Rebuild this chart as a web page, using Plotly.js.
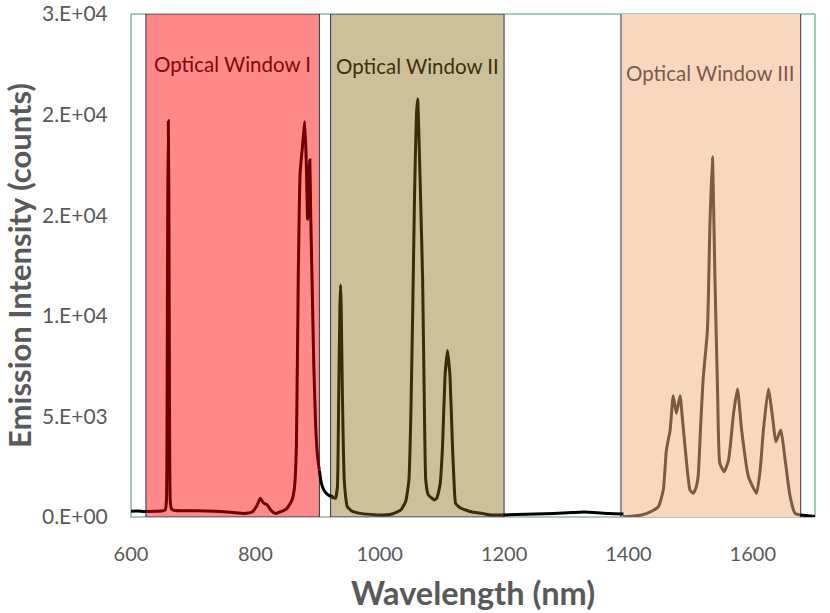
<!DOCTYPE html>
<html>
<head>
<meta charset="utf-8">
<script src="https://cdn.plot.ly/plotly-3.0.1.min.js"></script>
<style>
html,body{margin:0;padding:0;background:#fff;}
#chart{width:830px;height:613px;}
</style>
</head>
<body>
<div id="chart"></div>
<script>
// Black baseline segments (gaps between optical windows), null = break
const baseX = [600, 610, 620, 626, null, 903, 906, 910, 915, 920, 925, null,
  1198, 1220, 1250, 1280, 1310, 1330, 1350, 1370, 1392, null, 1676, 1688, 1700];
const baseY = [280, 300, 270, 270, null, 2300, 1700, 1350, 1150, 1050, 1000, null,
  100, 120, 150, 180, 220, 250, 210, 170, 150, null, 100, 60, 20];

// Optical Window I spectrum
const w1X = [626, 640, 650, 655, 657, 658, 659, 660, 661, 662, 663, 665, 670, 690, 720, 750, 780, 795,
  803, 808, 813, 819, 826, 832, 840, 851, 859, 863, 866, 869, 872, 876, 879.5, 882, 884, 886, 887.6,
  889, 891, 894, 897, 900, 903];
const w1Y = [270, 290, 300, 350, 800, 5000, 15000, 19700, 15000, 5000, 900, 400, 320, 310, 300, 260, 180, 250,
  600, 930, 700, 600, 300, 180, 250, 430, 850, 1500, 3500, 12000, 17100, 18500, 19650, 17500, 14800, 16500, 17740,
  15000, 12000, 7500, 4500, 3000, 2300];

// Optical Window II spectrum
const w2X = [922, 926, 929, 932, 934, 936, 937, 938, 940, 943, 948, 955, 969, 985, 1000, 1020, 1034, 1042,
  1047, 1050, 1053, 1056, 1059, 1061, 1063, 1066, 1069, 1072, 1074, 1078, 1084, 1088, 1092, 1097, 1101,
  1105, 1109, 1113, 1117, 1120, 1122, 1130, 1147, 1165, 1179, 1200];
const w2Y = [1010, 950, 930, 1500, 6000, 10500, 11530, 10500, 6000, 1800, 510, 300, 180, 130, 100, 150, 350, 800,
  1840, 5000, 10140, 16000, 20000, 20780, 19000, 15500, 11780, 5000, 1840, 1100, 930, 850, 950, 1600, 3500,
  7000, 8270, 7000, 3500, 1400, 680, 450, 260, 180, 100, 100];

// Optical Window III spectrum
const w3X = [1391, 1405, 1421, 1435, 1448, 1456, 1461, 1467, 1472, 1477, 1483, 1487, 1491, 1499, 1504,
  1508, 1512, 1516, 1520, 1527, 1531, 1535, 1539, 1543.5, 1547, 1554, 1561, 1569, 1575.3, 1582, 1593,
  1606, 1612, 1617, 1625, 1633, 1637, 1645, 1652, 1660, 1668, 1676];
const w3Y = [15, 40, 100, 250, 510, 1340, 3330, 4320, 6030, 5150, 6030, 4800, 3500, 1340, 1180,
  1400, 2000, 4500, 6810, 9290, 14500, 17910, 12000, 5980, 2670, 2250, 2830, 5150, 6360, 4320, 2000,
  1180, 2400, 4320, 6360, 4650, 3740, 4320, 2830, 1010, 180, 100];

// Window extents (nm) and labels
const windowNames = ["Optical Window I", "Optical Window II", "Optical Window III"];
const windowStart = [624, 921, 1388];
const windowEnd = [903, 1200, 1677];

const yTickVals = [0, 5000, 10000, 15000, 20000, 25000];
const yTickText = ["0.E+00", "5.E+03", "1.E+04", "2.E+04", "2.E+04", "3.E+04"];
const xTickVals = [600, 800, 1000, 1200, 1400, 1600];

const fills = ["#FF8888", "#CCBF99", "#F8D7C0"];
const lineCols = ["#6E0000", "#3A2C0A", "#7A5C44"];
const labelCols = ["#7B0A0A", "#3D2E0E", "#7A5A48"];

const traces = [
  {x: baseX, y: baseY, mode: "lines", line: {color: "#000000", width: 3, shape: "spline", smoothing: 0.6}, connectgaps: false, hoverinfo: "skip"},
  {x: w1X, y: w1Y, mode: "lines", line: {color: lineCols[0], width: 3, shape: "spline", smoothing: 0.4}},
  {x: w2X, y: w2Y, mode: "lines", line: {color: lineCols[1], width: 3, shape: "spline", smoothing: 0.4}},
  {x: w3X, y: w3Y, mode: "lines", line: {color: lineCols[2], width: 3, shape: "spline", smoothing: 0.5}}
];

const shapes = [
  {type: "rect", xref: "paper", yref: "paper", x0: 0, x1: 1, y0: 0, y1: 1,
   line: {color: "#3A9E72", width: 1}, fillcolor: "rgba(0,0,0,0)", layer: "below"}
];
const annYs = [22500, 22400, 22050];
const annotations = [];
for (let i = 0; i < 3; i++) {
  shapes.push({type: "rect", xref: "x", yref: "y", x0: windowStart[i], x1: windowEnd[i],
    y0: (i === 2 ? -150 : 0), y1: (i === 2 ? 25050 : 25000),
    fillcolor: fills[i], line: {color: "#2F3450", width: 1}, layer: "below"});
  annotations.push({x: (windowStart[i] + windowEnd[i]) / 2, y: annYs[i], xref: "x", yref: "y",
    text: windowNames[i], showarrow: false,
    font: {family: "Lato, 'Open Sans', sans-serif", size: 20.5, color: labelCols[i]}});
}

const layout = {
  width: 830, height: 613,
  margin: {l: 131, r: 15, t: 14, b: 96},
  paper_bgcolor: "#ffffff", plot_bgcolor: "#ffffff",
  showlegend: false,
  font: {family: "Lato, 'Open Sans', sans-serif", color: "#595959"},
  xaxis: {
    range: [600, 1700], tickvals: xTickVals, ticks: "", showgrid: false, zeroline: false,
    showline: true, linecolor: "#BFBFBF", linewidth: 1, ticklabelstandoff: 19,
    tickfont: {size: 20, color: "#595959"},
    title: {text: "<b>Wavelength (nm)</b>", font: {size: 32.5, color: "#595959"}, standoff: 18}
  },
  yaxis: {
    range: [0, 25000], tickvals: yTickVals, ticktext: yTickText, ticks: "", showgrid: false, zeroline: false,
    showline: true, linecolor: "#BFBFBF", linewidth: 1, ticklabelstandoff: 18,
    tickfont: {size: 21, color: "#595959"},
    title: {text: "<b>Emission Intensity (counts)</b>", font: {size: 31, color: "#595959"}, standoff: 4}
  },
  shapes: shapes,
  annotations: annotations
};

Plotly.newPlot("chart", traces, layout, {displayModeBar: false, staticPlot: true});
</script>
</body>
</html>
